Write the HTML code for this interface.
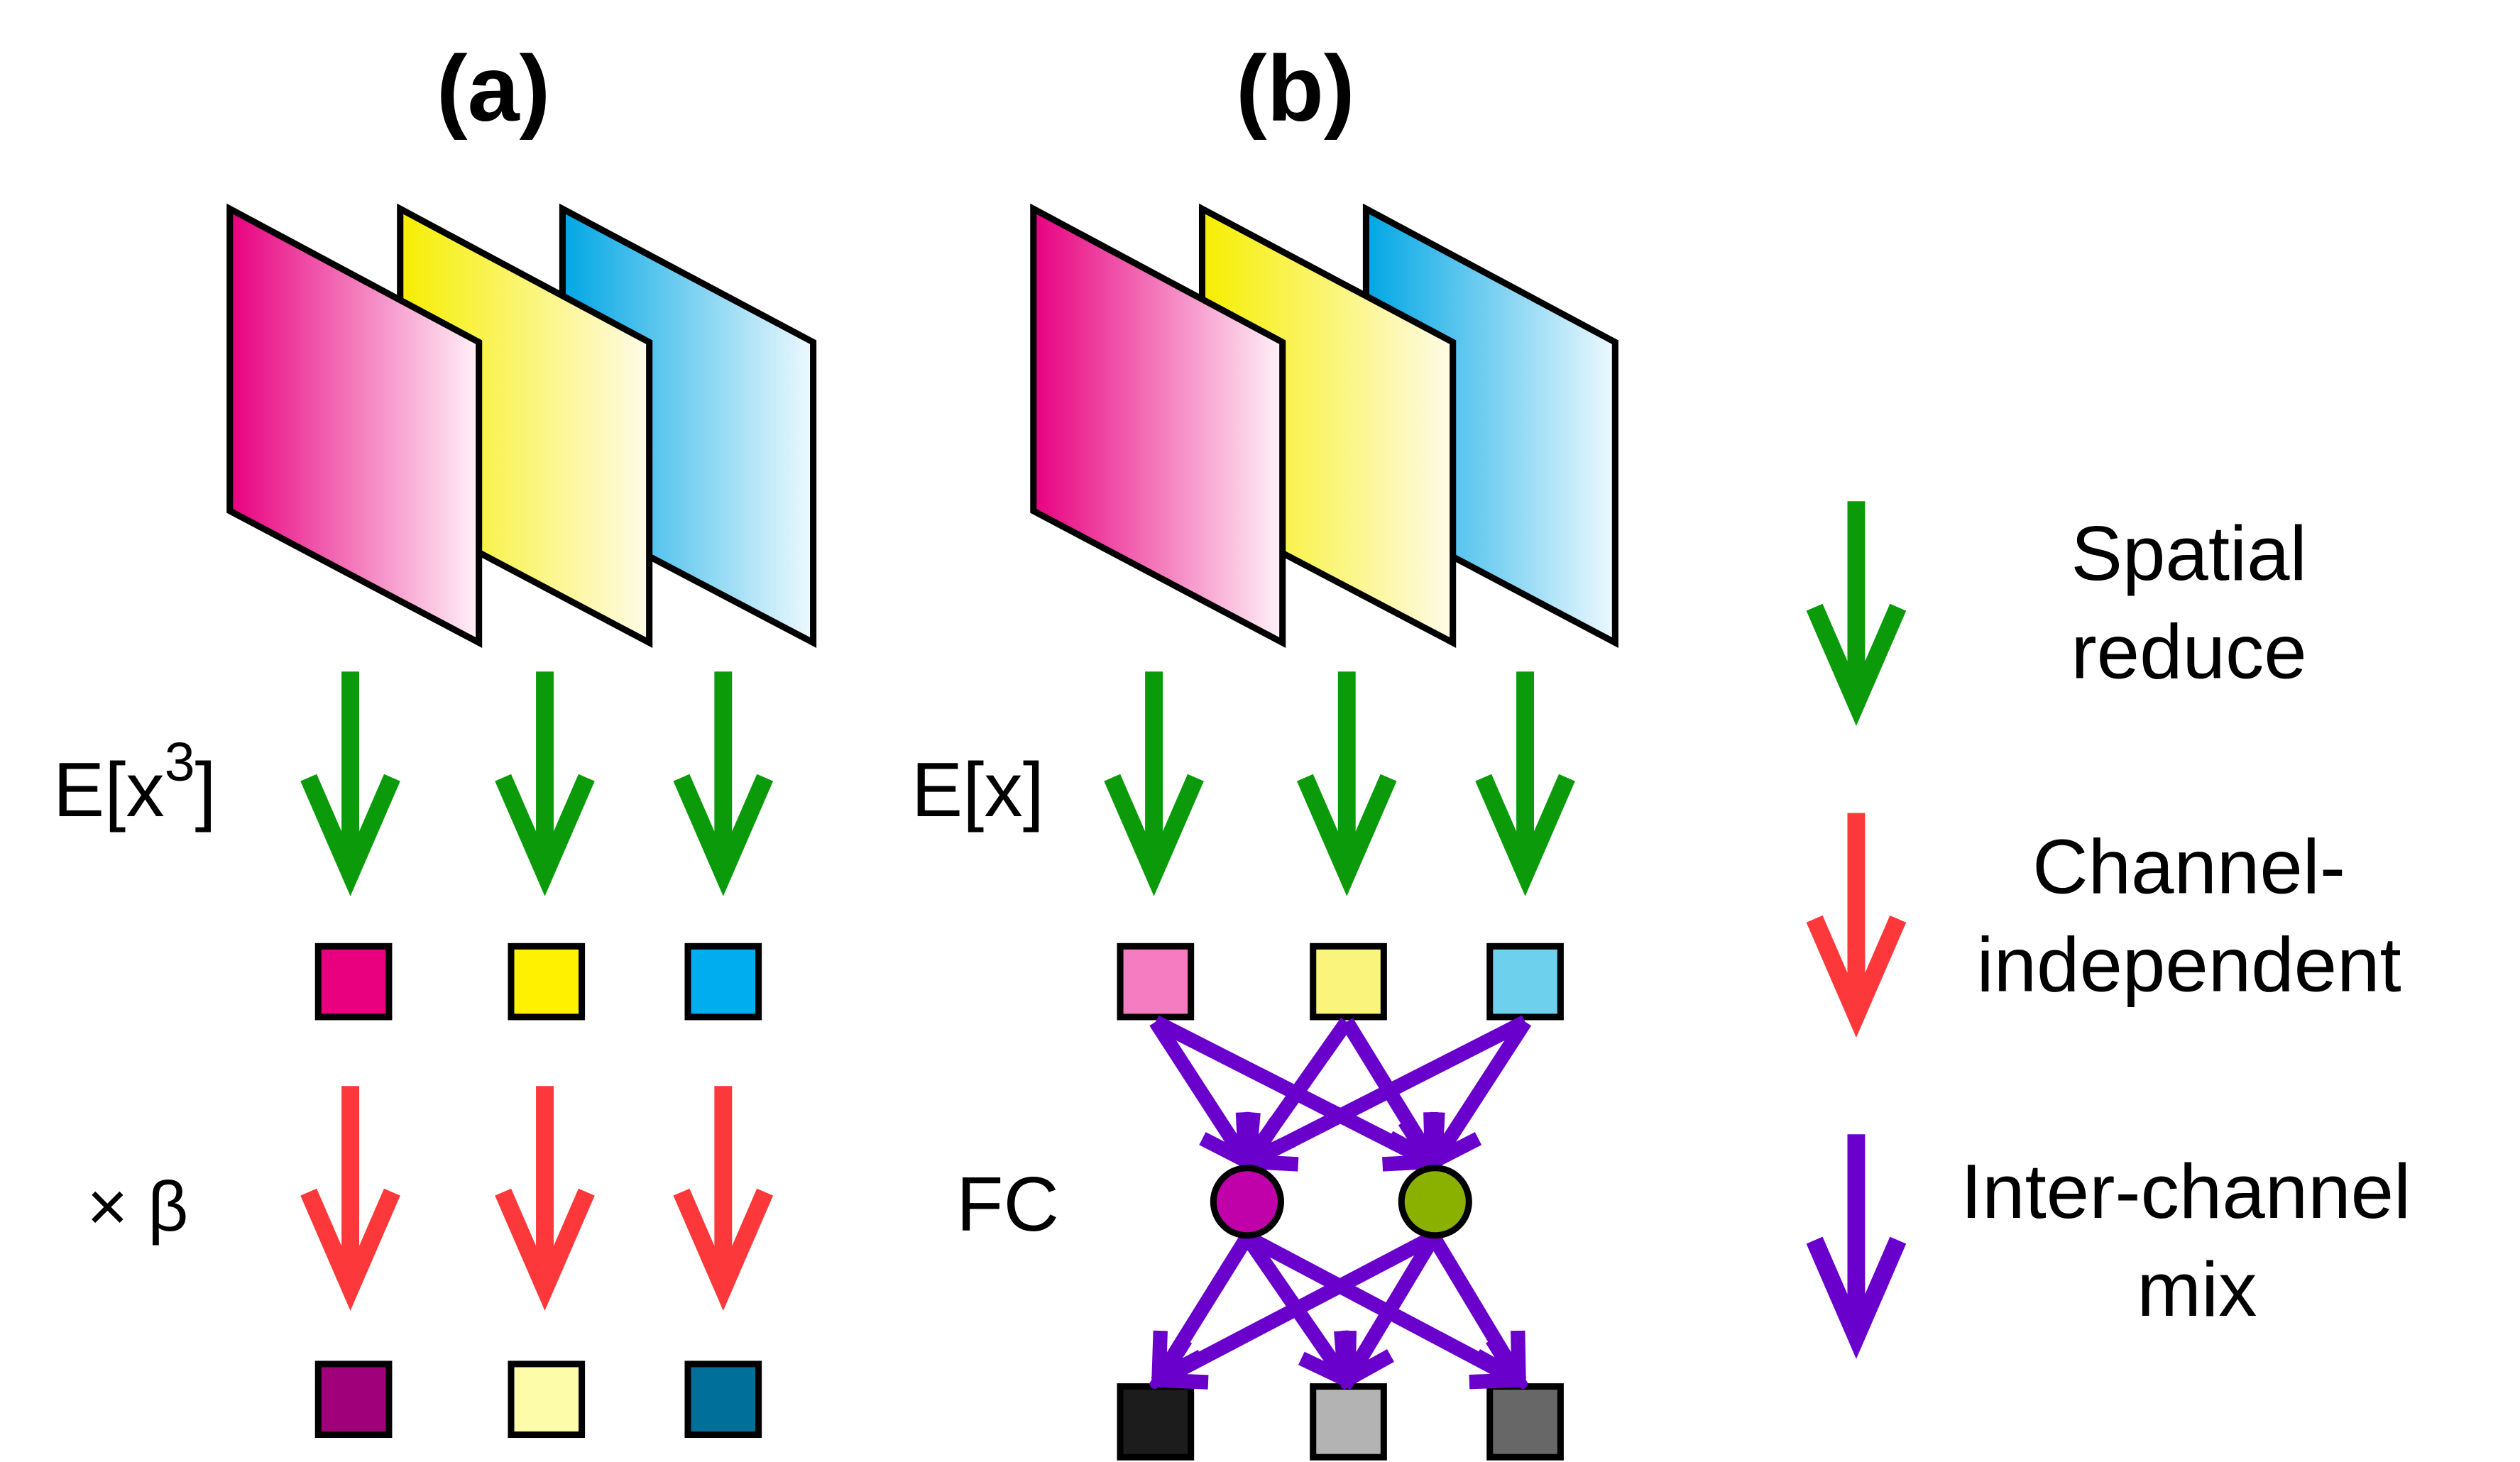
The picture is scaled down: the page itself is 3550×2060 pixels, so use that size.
<!DOCTYPE html>
<html><head><meta charset="utf-8"><style>html,body{margin:0;padding:0;background:#fff}svg{display:block}</style></head>
<body>
<svg width="3550" height="2060" viewBox="0 0 1568 910" preserveAspectRatio="none" xmlns="http://www.w3.org/2000/svg" font-family="Liberation Sans, sans-serif">
<defs>
<linearGradient id="gm" x1="0" x2="1" y1="0" y2="0"><stop offset="0" stop-color="#e8007f"/><stop offset="1" stop-color="#fff2f8"/></linearGradient>
<linearGradient id="gy" x1="0" x2="1" y1="0" y2="0"><stop offset="0" stop-color="#f6ee00"/><stop offset="1" stop-color="#fffbe8"/></linearGradient>
<linearGradient id="gc" x1="0" x2="1" y1="0" y2="0"><stop offset="0" stop-color="#00a6e4"/><stop offset="1" stop-color="#eef9fe"/></linearGradient>
<g id="ag" fill="none" stroke="#0a9a0a" stroke-width="11" stroke-miterlimit="10"><line x1="0" y1="-130" x2="0" y2="-6"/><polyline points="-26,-64 0,-4 26,-64"/></g>
<g id="ar" fill="none" stroke="#fd383a" stroke-width="11" stroke-miterlimit="10"><line x1="0" y1="-130" x2="0" y2="-6"/><polyline points="-26,-64 0,-4 26,-64"/></g>
<g id="ap" fill="none" stroke="#6a00cc" stroke-width="11" stroke-miterlimit="10"><line x1="0" y1="-130" x2="0" y2="-6"/><polyline points="-26,-64 0,-4 26,-64"/></g>
<marker id="pm" markerUnits="userSpaceOnUse" viewBox="-40 -25 45 50" refX="0" refY="0" markerWidth="45" markerHeight="50" orient="auto"><polyline points="-28,-15 -2,0 -28,15" fill="none" stroke="#6a00cc" stroke-width="9"/></marker>
</defs>
<text x="307" y="75" font-size="58" font-weight="bold" text-anchor="middle">(a)</text>
<text x="806" y="75" font-size="58" font-weight="bold" text-anchor="middle">(b)</text>
<g stroke="#000" stroke-width="4" stroke-linejoin="miter">
<polygon points="350,130 506,213 506,400 350,318" fill="url(#gc)"/>
<polygon points="249,130 404,213 404,400 249,318" fill="url(#gy)"/>
<polygon points="143,130 298,213 298,400 143,318" fill="url(#gm)"/>
<polygon points="850,130 1005,213 1005,400 850,318" fill="url(#gc)"/>
<polygon points="748,130 904,213 904,400 748,318" fill="url(#gy)"/>
<polygon points="643,130 798,213 798,400 643,318" fill="url(#gm)"/>
</g>
<use href="#ag" x="218" y="548"/><use href="#ag" x="339" y="548"/><use href="#ag" x="450" y="548"/>
<use href="#ag" x="718" y="548"/><use href="#ag" x="838" y="548"/><use href="#ag" x="949" y="548"/>
<use href="#ar" x="218" y="806"/><use href="#ar" x="339" y="806"/><use href="#ar" x="450" y="806"/>
<use href="#ag" x="1155" y="442"/><use href="#ar" x="1155" y="636"/><use href="#ap" x="1155" y="836"/>
<text x="33" y="508" font-size="48">E[x<tspan dy="-22" font-size="34">3</tspan><tspan dy="22">]</tspan></text>
<text x="54" y="766" font-size="44">× β</text>
<text x="567" y="508" font-size="48">E[x]</text>
<text x="595" y="766" font-size="48">FC</text>
<g font-size="48" text-anchor="middle">
<text x="1362" y="361">Spatial</text><text x="1362" y="422">reduce</text>
<text x="1362" y="556">Channel-</text><text x="1362" y="617">independent</text>
<text x="1360" y="758">Inter-channel</text><text x="1367" y="819">mix</text>
</g>
<g stroke="#000" stroke-width="4">
<rect x="198" y="589" width="44" height="44" fill="#e8007f"/>
<rect x="318" y="589" width="44" height="44" fill="#fff100"/>
<rect x="428" y="589" width="44" height="44" fill="#00aeef"/>
<rect x="198" y="849" width="44" height="44" fill="#a0007a"/>
<rect x="318" y="849" width="44" height="44" fill="#fdfca8"/>
<rect x="428" y="849" width="44" height="44" fill="#006f9a"/>
<rect x="697" y="589" width="44" height="44" fill="#f67cc2"/>
<rect x="817" y="589" width="44" height="44" fill="#fbf47c"/>
<rect x="927" y="589" width="44" height="44" fill="#6dd0ec"/>
<rect x="697" y="863" width="44" height="44" fill="#1c1c1c"/>
<rect x="817" y="863" width="44" height="44" fill="#b3b3b3"/>
<rect x="927" y="863" width="44" height="44" fill="#676767"/>
</g>
<g stroke="#6a00cc" stroke-width="9" marker-end="url(#pm)">
<line x1="719" y1="636" x2="776" y2="724"/>
<line x1="719" y1="636" x2="892" y2="724"/>
<line x1="838" y1="636" x2="776" y2="724"/>
<line x1="838" y1="636" x2="892" y2="724"/>
<line x1="949" y1="636" x2="776" y2="724"/>
<line x1="949" y1="636" x2="892" y2="724"/>
<line x1="776" y1="770" x2="720" y2="860"/>
<line x1="776" y1="770" x2="838" y2="860"/>
<line x1="776" y1="770" x2="946" y2="860"/>
<line x1="892" y1="770" x2="720" y2="860"/>
<line x1="892" y1="770" x2="838" y2="860"/>
<line x1="892" y1="770" x2="946" y2="860"/>
</g>
<circle cx="776" cy="748" r="21" fill="#c000a8" stroke="#000" stroke-width="4"/>
<circle cx="893" cy="748" r="21" fill="#8ab000" stroke="#000" stroke-width="4"/>
</svg>
</body></html>
